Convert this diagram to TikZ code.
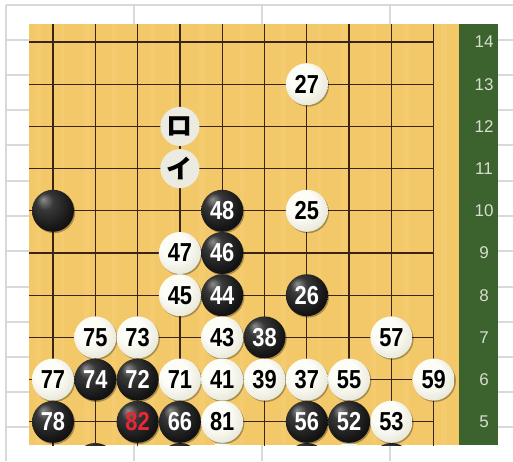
\documentclass[tikz,border=0pt]{standalone}
\usepackage{fontspec}
\setmainfont{Liberation Sans}
\newfontfamily\stonefont{Liberation Sans}[FakeStretch=0.84]
\newfontfamily\cjkfont{Noto Sans CJK JP}
\usetikzlibrary{shadows}
\definecolor{wood}{RGB}{243,200,104}
\definecolor{woodlight}{RGB}{249,214,128}
\definecolor{gridc}{RGB}{58,36,24}
\definecolor{sheet}{RGB}{217,217,217}
\definecolor{felt}{RGB}{60,98,46}
\definecolor{labelc}{RGB}{215,222,208}
\definecolor{markc}{RGB}{236,235,226}
\definecolor{redn}{RGB}{232,40,55}
\definecolor{wedge}{RGB}{150,150,128}
\definecolor{wmid}{RGB}{228,228,212}
\definecolor{wcen}{RGB}{253,253,248}
\pgfdeclareradialshading{bstoneshade}{\pgfpoint{-12bp}{14bp}}{color(0bp)=(black!45); color(10bp)=(black!78); color(28bp)=(black!92); color(50bp)=(black)}
\pgfdeclareradialshading{wstoneshade}{\pgfpoint{-10bp}{12bp}}{color(0bp)=(wcen); color(16bp)=(wcen); color(33bp)=(wmid); color(50bp)=(wedge)}
\tikzset{
  sheetline/.style={draw=sheet, line width=1.6pt},
  boardline/.style={draw=gridc, line width=1.3pt},
  stone/.style={circle, minimum size=42pt, inner sep=0pt,
    font=\stonefont\fontsize{26}{26}\selectfont\bfseries,
    drop shadow={shadow xshift=1.2pt, shadow yshift=-1.4pt, opacity=0.3, fill=black}},
  bst/.style={stone, shading=bstoneshade, text=white},
  wst/.style={stone, shading=wstoneshade, text=black},
  kanamark/.style={circle, minimum size=39pt, inner sep=0pt, fill=markc,
    font=\cjkfont\fontsize{26}{26}\selectfont\bfseries},
  sidenum/.style={text=labelc, font=\fontsize{17}{17}\selectfont, inner sep=0pt}
}
\begin{document}
\begin{tikzpicture}[x=1pt, y=-1pt]
\useasboundingbox (0,0) rectangle (513,461);
\fill[white] (0,0) rectangle (513,461);
% spreadsheet grid
\foreach \xx in {6,134,262,390} \draw[sheetline] (\xx,5) -- (\xx,461);
\foreach \yy in {5,40,75,110,145,181,216,251,287,322,357,392,427} \draw[sheetline] (6,\yy) -- (513,\yy);
% board
\fill[wood] (29,24) rectangle (459,445);
\foreach \xx/\ww in {36/5,61/3,84/6,112/4,150/5,171/3,199/6,240/4,281/5,318/3,341/6,372/4,404/5,441/6}
  \fill[woodlight, opacity=0.25] (\xx,24) rectangle (\xx+\ww,445);
\fill[felt] (459,24) rectangle (498,445);
% side numbers
\foreach \r [count=\j from 0] in {14,13,...,5}
  \node[sidenum] (n\r) at (484,42+42.2*\j) {\r};
\begin{scope}[shift={(53,42)}, x=42.3pt, y=-42.2pt]
  \begin{scope}
    \clip (-24/42.3,-18/42.2) rectangle (406/42.3,403/42.2);
    \foreach \i in {0,...,9} \draw[boardline] (\i,-1) -- (\i,11);
    \foreach \j in {0,...,9} \draw[boardline] (-1,\j) -- (9,\j);
    % partially visible stones below
    \node[bst] (r4a) at (1,10) {};
    \node[bst] (r4b) at (3,10) {};
    \node[wst] (r4c) at (4,10) {};
    \node[bst] (r4d) at (6,10) {};
    \node[wst] (r4e) at (7,10) {};
    \node[bst] (r4f) at (8,10) {};
  \end{scope}
  \node[wst] (w27) at (6,1) {27};
  \node[kanamark] (ro) at (3,2) {ロ};
  \node[kanamark] (i) at (3,3) {イ};
  \node[bst] (b0) at (0,4) {};
  \node[bst] (b48) at (4,4) {48};
  \node[wst] (w25) at (6,4) {25};
  \node[wst] (w47) at (3,5) {47};
  \node[bst] (b46) at (4,5) {46};
  \node[wst] (w45) at (3,6) {45};
  \node[bst] (b44) at (4,6) {44};
  \node[bst] (b26) at (6,6) {26};
  \node[wst] (w75) at (1,7) {75};
  \node[wst] (w73) at (2,7) {73};
  \node[wst] (w43) at (4,7) {43};
  \node[bst] (b38) at (5,7) {38};
  \node[wst] (w57) at (8,7) {57};
  \node[wst] (w77) at (0,8) {77};
  \node[bst] (b74) at (1,8) {74};
  \node[bst] (b72) at (2,8) {72};
  \node[wst] (w71) at (3,8) {71};
  \node[wst] (w41) at (4,8) {41};
  \node[wst] (w39) at (5,8) {39};
  \node[wst] (w37) at (6,8) {37};
  \node[wst] (w55) at (7,8) {55};
  \node[wst] (w59) at (9,8) {59};
  \node[bst] (b78) at (0,9) {78};
  \node[bst, text=redn] (b82) at (2,9) {82};
  \node[bst] (b66) at (3,9) {66};
  \node[wst] (w81) at (4,9) {81};
  \node[bst] (b56) at (6,9) {56};
  \node[bst] (b52) at (7,9) {52};
  \node[wst] (w53) at (8,9) {53};
\end{scope}
\end{tikzpicture}
\end{document}
